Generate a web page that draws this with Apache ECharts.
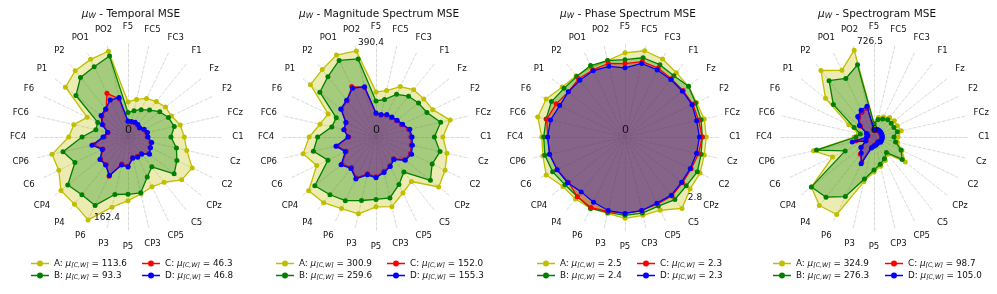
<!DOCTYPE html>
<html><head><meta charset="utf-8">
<script src="https://cdn.jsdelivr.net/npm/echarts@6/dist/echarts.min.js"></script>
<style>html,body{margin:0;padding:0;background:#fff}#c{width:997px;height:294px}</style>
</head><body><div id="c"></div>
<script>
const channels = ['F5','FC5','FC3','F1','Fz','F2','FCz','C1','Cz','C2','CPz','C5','CP5','CP3','P5','P3','P6','P4','CP4','C6','CP6','FC4','FC6','F6','P1','P2','PO1','PO2'];
const titles = ['Temporal MSE','Magnitude Spectrum MSE','Phase Spectrum MSE','Spectrogram MSE'];
const maxLabels = ['162.4','390.4','2.8','726.5'];
const axisMax = [167.7, 407.6, 2.91, 775];
const legendMeans = [
  ['113.6','93.3','46.3','46.8'],
  ['300.9','259.6','152.0','155.3'],
  ['2.5','2.4','2.3','2.3'],
  ['324.9','276.3','98.7','105.0']
];
// chart 1 : Temporal MSE
const t_A = [61.8,68.0,75.5,80.1,84.7,85.2,94.6,99.4,106.4,125.8,121.3,102.2,97.6,103.1,112.4,127.0,162.4,151.6,151.4,135.6,137.7,104.7,98.1,80.0,141.2,149.5,152.1,155.3];
const t_B = [43.1,47.7,53.5,60.9,71.7,79.2,83.8,75.9,87.7,95.8,104.1,67.4,78.4,101.0,101.1,104.1,134.0,130.6,135.9,104.0,117.7,81.2,58.2,59.3,117.5,134.5,137.7,146.5];
const t_C = [27,27,28,27,25.5,30.5,34,34,41.5,43,47,37.5,38,37,51.5,49,77,62,62,49,62,42,36,49,59,62,85.6,69];
const t_D = [28.2,28.2,29.1,28.2,26.5,31.8,35.3,35.3,42.9,44.1,48.7,38.8,39.5,38.5,53.0,50.5,75.5,63.5,63.5,50.5,65.3,44.1,37.1,50.5,60.9,63.5,72.4,71.5];
// chart 2 : Magnitude Spectrum MSE
const m_A = [193.5,204.3,239.9,259.3,262.3,270.5,326.4,286.8,312.2,329.0,344.0,244.2,266.2,306.6,299.7,338.0,341.0,360.3,369.4,282.5,320.8,286.8,246.4,227.9,359.9,369.8,390.4,378.8];
const m_B = [154.8,165.1,203.4,224.0,233.5,242.5,284.7,250.7,281.7,267.5,298.4,192.2,226.6,268.3,267.9,279.5,303.2,316.9,335.8,228.8,275.6,250.7,194.8,189.2,308.3,331.1,364.6,343.6];
const m_C = [100,96,104,106,112,122,144,150,155,164,156,120,137,152,171,162,195,168,187,142,172,117,140,142,189,199,240,218];
const m_D = [103.2,98.9,107.5,109.7,116.1,126.4,148.8,154.8,160.0,169.4,160.8,123.8,141.0,156.5,175.0,166.4,199.5,172.9,191.8,146.2,176.3,120.4,141.9,143.6,193.5,202.1,232.2,221.5];
// chart 3 : Phase Spectrum MSE
const p_A = [2.58,2.71,2.65,2.52,2.49,2.43,2.49,2.49,2.49,2.55,2.55,2.80,2.49,2.46,2.49,2.40,2.43,2.43,2.43,2.68,2.58,2.55,2.74,2.68,2.46,2.40,2.37,2.40];
const p_B = [2.37,2.49,2.46,2.40,2.49,2.40,2.39,2.37,2.39,2.46,2.40,2.45,2.35,2.39,2.40,2.37,2.43,2.34,2.35,2.46,2.52,2.49,2.48,2.50,2.39,2.37,2.43,2.40];
const p_C = [2.25,2.37,2.34,2.28,2.28,2.31,2.31,2.37,2.31,2.25,2.25,2.31,2.28,2.31,2.34,2.34,2.40,2.34,2.22,2.31,2.37,2.37,2.46,2.34,2.22,2.28,2.28,2.31];
const p_D = [2.12,2.31,2.28,2.25,2.25,2.28,2.25,2.28,2.25,2.22,2.22,2.28,2.25,2.31,2.34,2.31,2.22,2.15,2.25,2.31,2.37,2.37,2.34,2.22,2.22,2.22,2.25,2.22];
// chart 4 : Spectrogram MSE
const s_A = [114,163,180,204,212,212,228,196,196,253,326,180,212,245,286,375,702,715,653,375,506,163,131,228,506,694,604,726.5];
const s_B = [106,147,163,180,180,180,196,163,180,245,294,163,196,228,269,351,539,628,653,261,481,147,114,180,424,588,530,604];
const s_C = [55,55,62,62,62,62,62,62,62,62,62,50,55,62,70,85,230,180,130,70,150,55,50,62,140,200,225,240];
const s_D = [61,61,68,68,68,68,68,68,68,68,68,53,61,68,76,91,243,167,137,76,182,61,53,68,152,213,243,258];

const seriesSets = [[t_A,t_B,t_C,t_D],[m_A,m_B,m_C,m_D],[p_A,p_B,p_C,p_D],[s_A,s_B,s_C,s_D]];
const letters = ['A','B','C','D'];
const colors = ['#bfbf00','#008000','#ff0000','#0000ff'];
const centers = [128,376,625,874];
const cy = 137, R = 95;
const legendX = [[26,137],[271,382],[532,632],[768,880]];

// ECharts lays indicators counter-clockwise; reference goes clockwise from top
const perm = [0]; for (let i = channels.length - 1; i >= 1; i--) perm.push(i);

const FONT = 'DejaVu Sans';
const radar = [], series = [], legend = [], title = [], graphic = [];
const names = {};
for (let k = 0; k < 4; k++) {
  radar.push({
    center: [centers[k], cy], radius: R, startAngle: 90, shape: 'polygon',
    splitNumber: 1,
    indicator: perm.map(i => ({ name: channels[i], max: axisMax[k], min: 0 })),
    nameGap: 15,
    axisName: { color: '#111', fontSize: 8.5, fontFamily: FONT, align: 'center', verticalAlign: 'middle' },
    axisLine: { lineStyle: { color: '#cfcfcf', type: [3, 2], width: 0.8 } },
    splitLine: { show: false }, splitArea: { show: false }, axisTick: { show: false }, axisLabel: { show: false }
  });
  title.push({
    text: '{mu|μ}{sub|W}{t| - ' + titles[k] + '}',
    left: centers[k] - 2, top: 3, textAlign: 'center',
    textStyle: { fontWeight: 'normal', rich: {
      mu: { fontFamily: FONT, fontStyle: 'italic', fontWeight: 'normal', fontSize: 10.5, color: '#111' },
      sub: { fontFamily: FONT, fontStyle: 'italic', fontWeight: 'normal', fontSize: 7.5, color: '#111', verticalAlign: 'bottom', padding: [4, 0, 0, 0] },
      t: { fontFamily: FONT, fontWeight: 'normal', fontSize: 10.5, color: '#111' } } }
  });
  for (let s = 0; s < 4; s++) {
    const nm = letters[s] + '_' + (k + 1);
    names[nm] = '{t|' + letters[s] + ': }{mu|μ}{sub|[C,W]}{t| = ' + legendMeans[k][s] + '}';
    series.push({
      type: 'radar', radarIndex: k, name: nm, z: 2 + s,
      symbol: 'circle', symbolSize: 5,
      lineStyle: { color: colors[s], width: 1.3 },
      itemStyle: { color: colors[s] },
      areaStyle: { color: colors[s], opacity: 0.3 },
      data: [{ name: nm, value: perm.map(i => seriesSets[k][s][i]) }]
    });
  }
  for (let col = 0; col < 2; col++) {
    legend.push({
      orient: 'vertical', left: legendX[k][col], top: 254, itemGap: 3,
      itemWidth: 18, itemHeight: 6,
      data: [letters[col * 2] + '_' + (k + 1), letters[col * 2 + 1] + '_' + (k + 1)].map((n, j) => ({
        name: n,
        icon: 'path://M0,2.25 L18,2.25 L18,3.75 L0,3.75 Z M9,0 A3,3 0 1,1 9,6 A3,3 0 1,1 9,0 Z',
        itemStyle: { color: colors[col * 2 + j] }
      })),
      formatter: n => names[n],
      selectedMode: false,
      textStyle: { rich: {
        t: { fontFamily: FONT, fontSize: 8.8, color: '#111' },
        mu: { fontFamily: FONT, fontStyle: 'italic', fontSize: 8.8, color: '#111' },
        sub: { fontFamily: FONT, fontStyle: 'italic', fontSize: 6.3, color: '#111', verticalAlign: 'bottom', padding: [3, 0, 0, 0] } } }
    });
  }
  graphic.push({ type: 'text', left: centers[k] - 3, top: cy - 12, style: { text: '0', fontFamily: FONT, fontSize: 11, fill: '#111' }, z: 100 });
}
const maxOffsets = [[-21, 81], [-5, -94], [70, 61], [-4, -95]];
for (let k = 0; k < 4; k++) {
  graphic.push({ type: 'text', x: centers[k] + maxOffsets[k][0], y: cy + maxOffsets[k][1],
    style: { text: maxLabels[k], fontFamily: FONT, fontSize: 9, fill: '#111', align: 'center', verticalAlign: 'middle' }, z: 100 });
}
const chart = echarts.init(document.getElementById('c'), null, { renderer: 'canvas' });
chart.setOption({ animation: false, backgroundColor: '#fff', title, radar, legend, series, graphic });
</script></body></html>
